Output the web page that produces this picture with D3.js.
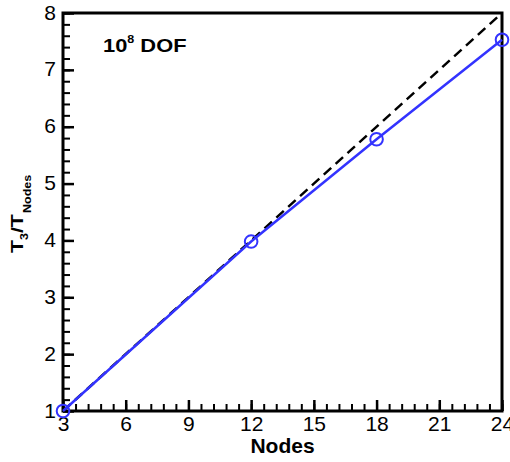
<!DOCTYPE html>
<html>
<head>
<meta charset="utf-8">
<script src="https://cdn.jsdelivr.net/npm/d3@7"></script>
<style>
  body { margin: 0; background: #fff; }
  text { font-family: "Liberation Sans", Arial, sans-serif; }
</style>
</head>
<body>
<svg id="chart" width="510" height="462"></svg>
<script>
// measured speedup vs nodes
var nodes = [3, 12, 18, 24];
var speedup = [1, 3.98, 5.78, 7.53];
// ideal line
var idealNodes = [3, 24];
var idealSpeedup = [1, 8];
var xTicks = [3, 6, 9, 12, 15, 18, 21, 24];
var yTicks = [1, 2, 3, 4, 5, 6, 7, 8];

var svg = d3.select("#chart");
var margin = { left: 63, right: 8, top: 13, bottom: 51 };
var w = 510 - margin.left - margin.right,
    h = 462 - margin.top - margin.bottom;

var x = d3.scaleLinear().domain([3, 24]).range([0, w]);
var y = d3.scaleLinear().domain([1, 8]).range([h, 0]);

var g = svg.append("g").attr("transform", "translate(" + margin.left + "," + margin.top + ")");

/* ticks point inward, minor ones first */
var xMinor = d3.range(3, 24.001, 0.6);
var yMinor = d3.range(1, 8.001, 0.2);

function styleAxis(sel, width) {
    sel.select(".domain").remove();
    sel.selectAll(".tick line").attr("stroke", "#000").attr("stroke-width", width);
}

g.append("g").attr("class", "xminor")
    .attr("transform", "translate(0," + h + ")")
    .call(d3.axisBottom(x).tickValues(xMinor).tickSize(-7).tickFormat(""))
    .call(styleAxis, 2);
g.append("g").attr("class", "yminor")
    .call(d3.axisLeft(y).tickValues(yMinor).tickSize(-7).tickFormat(""))
    .call(styleAxis, 2);

var xAxis = g.append("g").attr("class", "xaxis")
    .attr("transform", "translate(0," + h + ")")
    .call(d3.axisBottom(x).tickValues(xTicks).tickSize(-11).tickFormat(d3.format("d")))
    .call(styleAxis, 2.5);
xAxis.selectAll(".tick text")
    .attr("y", 20).attr("dy", 0)
    .attr("font-family", "Liberation Sans, Arial, sans-serif")
    .attr("font-size", 21).attr("fill", "#000");

var yAxis = g.append("g").attr("class", "yaxis")
    .call(d3.axisLeft(y).tickValues(yTicks).tickSize(-11).tickFormat(d3.format("d")))
    .call(styleAxis, 2.5);
yAxis.selectAll(".tick text")
    .attr("x", -7).attr("dy", 6)
    .attr("font-family", "Liberation Sans, Arial, sans-serif")
    .attr("font-size", 21).attr("fill", "#000");

/* frame */
g.append("rect")
    .attr("width", w).attr("height", h)
    .attr("fill", "none").attr("stroke", "#000").attr("stroke-width", 3);

var line = d3.line()
    .x(function(d) { return x(d[0]); })
    .y(function(d) { return y(d[1]); });

g.append("path")
    .attr("d", line(d3.zip(idealNodes, idealSpeedup)))
    .attr("fill", "none")
    .attr("stroke", "#000")
    .attr("stroke-width", 2.5)
    .attr("stroke-dasharray", "10,6");

g.append("path")
    .attr("d", line(d3.zip(nodes, speedup)))
    .attr("fill", "none")
    .attr("stroke", "#3333ff")
    .attr("stroke-width", 2.5);

g.selectAll(".pt").data(d3.zip(nodes, speedup)).enter().append("circle")
    .attr("class", "pt")
    .attr("cx", function(d) { return x(d[0]); })
    .attr("cy", function(d) { return y(d[1]); })
    .attr("r", 6.3)
    .attr("fill", "none")
    .attr("stroke", "#3333ff")
    .attr("stroke-width", 2);

/* labels */
svg.append("text")
    .attr("x", margin.left + w / 2)
    .attr("y", 453)
    .attr("text-anchor", "middle")
    .attr("font-size", 21)
    .attr("font-weight", "bold")
    .text("Nodes");

// y title is drawn stretched along its reading direction, like the original
var yl = svg.append("text")
    .attr("transform", "translate(23,253) rotate(-90) scale(1.25,1)")
    .attr("text-anchor", "start")
    .attr("font-size", 17)
    .attr("font-weight", "bold");
yl.append("tspan").text("T");
yl.append("tspan").attr("font-size", 10).attr("dy", 5).text("3");
yl.append("tspan").attr("dy", -5).text("/T");
yl.append("tspan").attr("font-size", 10).attr("dy", 8).attr("dx", 1).text("Nodes");

var ann = svg.append("text")
    .attr("transform", "translate(103,52) scale(1.25,1)")
    .attr("font-size", 17.5)
    .attr("font-weight", "bold");
ann.append("tspan").text("10");
ann.append("tspan").attr("font-size", 10).attr("dy", -8.7).text("8");
ann.append("tspan").attr("dy", 8.7).text(" DOF");
</script>
</body>
</html>
